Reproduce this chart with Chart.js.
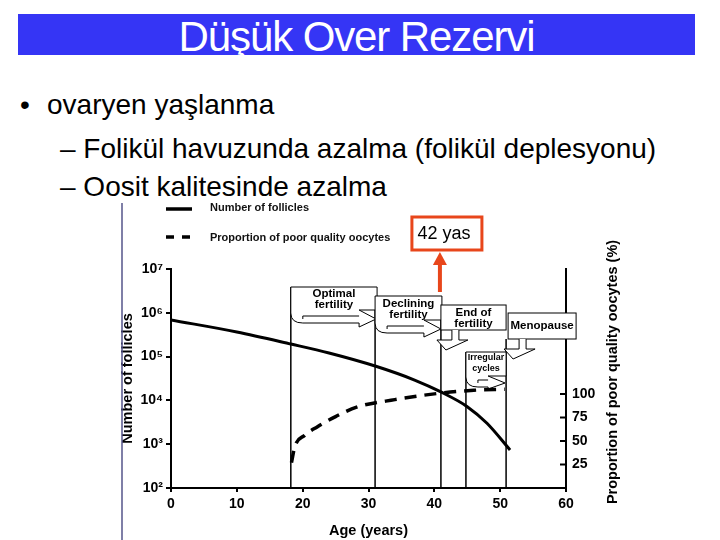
<!DOCTYPE html>
<html>
<head>
<meta charset="utf-8">
<script src="https://cdn.jsdelivr.net/npm/chart.js@4/dist/chart.umd.min.js"></script>
<style>
  body { margin: 0; background: #fff; font-family: "Liberation Sans", Arial, sans-serif; }
  #slide { position: relative; width: 720px; height: 540px; overflow: hidden; }
  #bar { position: absolute; left: 18px; top: 14px; width: 677px; height: 41px; background: #3535f5; }
  #title { position: absolute; left: 18px; top: 13px; width: 677px; text-align: center; color: #fff;
           font-size: 42px; line-height: 48px; letter-spacing: -1.1px; white-space: nowrap; }
  .line { position: absolute; font-size: 28px; line-height: 32px; color: #000; white-space: nowrap; }
  #chartBox { position: absolute; left: 0; top: 0; width: 720px; height: 540px; }
</style>
</head>
<body>
<div id="slide">
  <div id="bar"></div>
  <div id="title">Düşük Over Rezervi</div>
  <div class="line" style="left:20px;top:89px">•</div>
  <div class="line" style="left:47px;top:89px">ovaryen yaşlanma</div>
  <div class="line" style="left:60px;top:133px">– Folikül havuzunda azalma (folikül deplesyonu)</div>
  <div class="line" style="left:60px;top:171px">– Oosit kalitesinde azalma</div>
  <div id="chartBox"><canvas id="chart"></canvas></div>
</div>
<script>
// --- data ---
const follicleAges = [0, 10, 18.2, 24, 31, 37, 41, 45, 48, 51.5];
const follicleCounts = [685000, 365000, 194000, 121000, 61000, 29200, 15600, 7200, 3000, 740];

const poorAges = [18.3, 18.8, 20.3, 22.2, 25, 28.2, 34, 41, 46, 50.7];
const poorPercent = [27, 44, 56, 65, 76, 86, 94, 101, 104, 105];

const yTickValues = [1e2, 1e3, 1e4, 1e5, 1e6, 1e7];
const yTickLabels = ['10²', '10³', '10⁴', '10⁵', '10⁶', '10⁷'];
const pctTicks = [25, 50, 75, 100];

// stage boundaries (age) and their callout texts
const stageAges = [18.2, 31, 41, 44.8, 50.9];
const stageNames = [['Optimal', 'fertility'], ['Declining', 'fertility'], ['End of', 'fertility'], ['Irregular', 'cycles'], ['Menopause']];

const markerAge = 41;
const markerLabel = '42 yas';

const FONT = '"Liberation Sans", Arial, sans-serif';
const ORANGE = '#e8461b';
Chart.defaults.font.family = FONT;
Chart.defaults.color = '#000';

// --- drawing helpers ---
const drawLines = (ctx, lines, cx, ys, size) => {
    ctx.fillStyle = '#000';
    ctx.font = `bold ${size}px ${FONT}`;
    ctx.textAlign = 'center';
    ctx.textBaseline = 'middle';
    lines.forEach((t, i) => ctx.fillText(t, cx, ys[i]));
};

// box whose lower part turns into an arrow pointing right
const rightCallout = (ctx, x0, x1, y0, yA, hh, lines, ys, size) => {
    const xb = x1 - 18;
    ctx.beginPath();
    ctx.moveTo(x0, y0);
    ctx.lineTo(x1, y0);
    ctx.lineTo(x1, yA - hh - 1);
    ctx.lineTo(xb, yA - hh - 1);
    ctx.lineTo(x1 - 1, yA);
    ctx.lineTo(xb, yA + hh);
    ctx.lineTo(xb, yA + 4);
    ctx.lineTo(x0 + 12, yA + 4);
    ctx.quadraticCurveTo(x0, yA + 4, x0, yA - 6);
    ctx.closePath();
    ctx.fillStyle = '#fff';
    ctx.fill();
    ctx.stroke();
    ctx.beginPath();
    ctx.moveTo(x0 + 12, yA);
    ctx.lineTo(x0 + 12, yA - 3);
    ctx.lineTo(xb, yA - 3);
    ctx.stroke();
    drawLines(ctx, lines, (x0 + x1) / 2, ys, size);
};

// plain box with a short arrow pointing down-left beneath it
const downCallout = (ctx, x0, x1, y0, y1, lines, ys, size) => {
    ctx.fillStyle = '#fff';
    ctx.fillRect(x0, y0, x1 - x0, y1 - y0);
    ctx.strokeRect(x0, y0, x1 - x0, y1 - y0);
    const pts = [[x0 + 11, y1], [x0 + 11, y1 + 10], [x0 - 4, y1 + 10], [x0 + 5, y1 + 20],
                 [x0 + 27, y1 + 10], [x0 + 18, y1 + 10], [x0 + 18, y1]];
    ctx.beginPath();
    pts.forEach((p, i) => i ? ctx.lineTo(p[0], p[1]) : ctx.moveTo(p[0], p[1]));
    ctx.fillStyle = '#fff';
    ctx.fill();
    ctx.stroke();
    drawLines(ctx, lines, (x0 + x1) / 2, ys, size);
};

const overlay = {
    id: 'overlay',
    beforeDatasetsDraw(chart) {
        const ctx = chart.ctx;
        const xs = chart.scales.x;
        const bottom = chart.chartArea.bottom;
        const px = stageAges.map(a => xs.getPixelForValue(a));
        const lineTops = [287, 296, 305, 352, 339];
        ctx.save();
        ctx.strokeStyle = '#000';
        ctx.lineWidth = 1.5;
        px.forEach((x, i) => {
            ctx.beginPath();
            ctx.moveTo(x, lineTops[i]);
            ctx.lineTo(x, bottom);
            ctx.stroke();
        });
        ctx.lineWidth = 1;
        rightCallout(ctx, px[0], px[1] + 2, 287, 319, 8, stageNames[0], [294, 305], 11.5);
        rightCallout(ctx, px[1], px[2] + 1, 296, 329, 8, stageNames[1], [304, 315], 11.5);
        rightCallout(ctx, px[3], px[4], 352, 383, 6, stageNames[3], [358, 369], 9);
        downCallout(ctx, px[2], px[4], 305, 330, stageNames[2], [313, 324], 11.5);
        downCallout(ctx, px[4] + 2, px[4] + 70, 313, 339, stageNames[4], [326], 11.5);
        ctx.restore();
    },
    afterDraw(chart) {
        const ctx = chart.ctx;
        const y2 = chart.scales.y2;
        const area = chart.chartArea;
        ctx.save();

        // left edge of the embedded figure
        ctx.strokeStyle = '#55558a';
        ctx.lineWidth = 1.5;
        ctx.beginPath();
        ctx.moveTo(122, 203);
        ctx.lineTo(122, 540);
        ctx.stroke();

        // inward ticks on the percentage axis
        ctx.strokeStyle = '#000';
        ctx.lineWidth = 2;
        pctTicks.forEach(v => {
            const y = y2.getPixelForValue(v);
            ctx.beginPath();
            ctx.moveTo(area.right - 6, y);
            ctx.lineTo(area.right, y);
            ctx.stroke();
        });

        // legend
        ctx.lineWidth = 3.5;
        ctx.beginPath();
        ctx.moveTo(166, 209);
        ctx.lineTo(192, 209);
        ctx.stroke();
        ctx.setLineDash([8, 8]);
        ctx.beginPath();
        ctx.moveTo(166, 237);
        ctx.lineTo(192, 237);
        ctx.stroke();
        ctx.setLineDash([]);
        ctx.fillStyle = '#111';
        ctx.font = `bold 11px ${FONT}`;
        ctx.textAlign = 'left';
        ctx.textBaseline = 'middle';
        ctx.fillText(chart.data.datasets[0].label, 210, 208);
        ctx.fillText(chart.data.datasets[1].label, 210, 238);

        // right axis title, reading bottom to top
        ctx.translate(613, 372);
        ctx.rotate(-Math.PI / 2);
        ctx.font = `bold 14.5px ${FONT}`;
        ctx.textAlign = 'center';
        ctx.fillStyle = '#000';
        ctx.fillText('Proportion of poor quality oocytes (%)', 0, 0);
        ctx.setTransform(1, 0, 0, 1, 0, 0);

        // "42 yas" marker
        const mx = chart.scales.x.getPixelForValue(markerAge) - 1;
        ctx.strokeStyle = ORANGE;
        ctx.lineWidth = 3;
        ctx.strokeRect(mx - 28, 217, 70, 33);
        ctx.fillStyle = '#000';
        ctx.font = `18px ${FONT}`;
        ctx.fillText(markerLabel, mx + 4, 234);
        ctx.lineWidth = 4;
        ctx.beginPath();
        ctx.moveTo(mx, 292);
        ctx.lineTo(mx, 263);
        ctx.stroke();
        ctx.fillStyle = ORANGE;
        ctx.beginPath();
        ctx.moveTo(mx - 7, 265);
        ctx.lineTo(mx + 7, 265);
        ctx.lineTo(mx, 252);
        ctx.closePath();
        ctx.fill();
        ctx.restore();
    }
};

new Chart(document.getElementById('chart'), {
    type: 'line',
    data: {
        datasets: [{
            label: 'Number of follicles',
            data: follicleAges.map((a, i) => ({ x: a, y: follicleCounts[i] })),
            yAxisID: 'y',
            borderColor: '#000',
            borderWidth: 3,
            pointRadius: 0,
            cubicInterpolationMode: 'monotone',
            fill: false
        }, {
            label: 'Proportion of poor quality oocytes',
            data: poorAges.map((a, i) => ({ x: a, y: poorPercent[i] })),
            yAxisID: 'y2',
            borderColor: '#000',
            borderWidth: 3.5,
            borderDash: [12, 8],
            pointRadius: 0,
            cubicInterpolationMode: 'monotone',
            fill: false
        }]
    },
    options: {
        responsive: true,
        maintainAspectRatio: false,
        animation: false,
        layout: { padding: { left: 117, right: 100, top: 269, bottom: 0 } },
        plugins: { legend: { display: false }, tooltip: { enabled: false } },
        scales: {
            x: {
                type: 'linear',
                min: 0,
                max: 60,
                ticks: { stepSize: 10, padding: 4, font: { size: 14, weight: 'bold' } },
                grid: { drawOnChartArea: false, tickLength: 4, color: '#000', lineWidth: 2 },
                border: { color: '#000', width: 2 },
                title: { display: true, text: 'Age (years)', font: { size: 14.5, weight: 'bold' }, padding: { top: 2, bottom: 0 } },
                afterFit: s => { s.height = 52; }
            },
            y: {
                type: 'logarithmic',
                position: 'left',
                min: 100,
                max: 1e7,
                afterBuildTicks: s => { s.ticks = yTickValues.map(v => ({ value: v })); },
                ticks: { padding: 3, font: { size: 14, weight: 'bold' }, callback: (v, i) => yTickLabels[i] },
                grid: { drawOnChartArea: false, tickLength: 5, color: '#000', lineWidth: 2 },
                border: { color: '#000', width: 2 },
                title: { display: true, text: 'Number of follicles', font: { size: 14.5, weight: 'bold' }, padding: { top: 2, bottom: 0 } },
                afterFit: s => { s.width = 54; }
            },
            y2: {
                type: 'linear',
                position: 'right',
                min: 0,
                max: 233,
                afterBuildTicks: s => { s.ticks = pctTicks.map(v => ({ value: v })); },
                ticks: { padding: 6, font: { size: 14, weight: 'bold' } },
                grid: { drawOnChartArea: false, drawTicks: false },
                border: { color: '#000', width: 2 },
                afterFit: s => { s.width = 54; }
            }
        }
    },
    plugins: [overlay]
});
</script>
</body>
</html>
